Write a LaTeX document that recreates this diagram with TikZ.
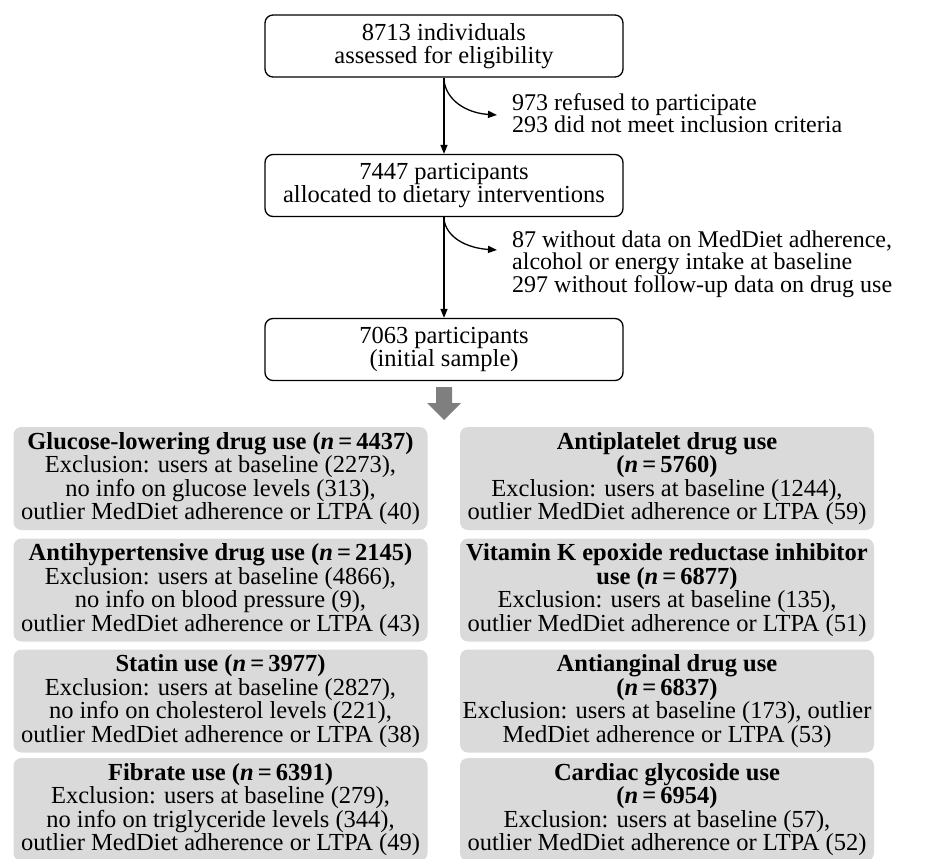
\documentclass[tikz,border=0pt]{standalone}
\usepackage{fontspec}
\setmainfont{Liberation Serif}
\usetikzlibrary{arrows.meta}
\definecolor{boxgray}{HTML}{DADADA}
\definecolor{arrowgray}{HTML}{7F7F7F}
\newcommand{\nn}[1]{(\textit{n}\,=\,#1)}
\begin{document}
\begin{tikzpicture}[x=1pt,y=-1pt,
  txt/.style={font=\fontsize{24.5}{23.5}\selectfont, align=center, inner sep=0pt},
  topbox/.style={txt, draw, line width=1.3pt, rounded corners=8pt, minimum width=358pt, minimum height=62pt},
  graybox/.style={txt, fill=boxgray, rounded corners=8pt, minimum width=414pt, minimum height=103pt},
  note/.style={font=\fontsize{24}{22}\selectfont, align=left, anchor=west, inner sep=0pt},
  arr/.style={-{Triangle[length=9pt,width=7pt]}, line width=1.3pt}]
\useasboundingbox (0,0) rectangle (929,859);

\node[topbox] (b1) at (444,46) {8713 individuals\\assessed for eligibility};
\node[topbox] (b2) at (444,185.5) {7447 participants\\allocated to dietary interventions};
\node[topbox] (b3) at (444,349.5) {7063 participants\\(initial sample)};
\draw[arr] (b1) -- (b2);
\draw[arr] (b2) -- (b3);

\coordinate (s1) at (444,80);
\coordinate (t1) at (497,115);
\draw[arr] (s1) .. controls (446,100) and (466,113) .. (t1);
\node[note] (e1) at (512,113) {973 refused to participate\\293 did not meet inclusion criteria};

\coordinate (s2) at (444,219);
\coordinate (t2) at (497,250);
\draw[arr] (s2) .. controls (446,237) and (466,248) .. (t2);
\node[note] (e2) at (512,264) {87 without data on MedDiet adherence,\\alcohol or energy intake at baseline\\297 without follow-up data on drug use};

\fill[arrowgray] (436,387) -- (452,387) -- (452,403) -- (461,403) -- (444,420) -- (427,403) -- (436,403) -- cycle;

\node[graybox] (g1) at (220.5,478.5) {\textbf{Glucose-lowering drug use \nn{4437}}\\Exclusion: users at baseline (2273),\\no info on glucose levels (313),\\outlier MedDiet adherence or LTPA (40)};
\node[graybox] (g2) at (220.5,590) {\textbf{Antihypertensive drug use \nn{2145}}\\Exclusion: users at baseline (4866),\\no info on blood pressure (9),\\outlier MedDiet adherence or LTPA (43)};
\node[graybox] (g3) at (220.5,701) {\textbf{Statin use \nn{3977}}\\Exclusion: users at baseline (2827),\\no info on cholesterol levels (221),\\outlier MedDiet adherence or LTPA (38)};
\node[graybox] (g4) at (220.5,809.5) {\textbf{Fibrate use \nn{6391}}\\Exclusion: users at baseline (279),\\no info on triglyceride levels (344),\\outlier MedDiet adherence or LTPA (49)};

\node[graybox] (h1) at (667,478.5) {\textbf{Antiplatelet drug use}\\\textbf{\nn{5760}}\\Exclusion: users at baseline (1244),\\outlier MedDiet adherence or LTPA (59)};
\node[graybox] (h2) at (667,590) {\textbf{Vitamin K epoxide reductase inhibitor}\\\textbf{use \nn{6877}}\\Exclusion: users at baseline (135),\\outlier MedDiet adherence or LTPA (51)};
\node[graybox] (h3) at (667,701) {\textbf{Antianginal drug use}\\\textbf{\nn{6837}}\\Exclusion: users at baseline (173), outlier\\MedDiet adherence or LTPA (53)};
\node[graybox] (h4) at (667,809.5) {\textbf{Cardiac glycoside use}\\\textbf{\nn{6954}}\\Exclusion: users at baseline (57),\\outlier MedDiet adherence or LTPA (52)};
\end{tikzpicture}
\end{document}
